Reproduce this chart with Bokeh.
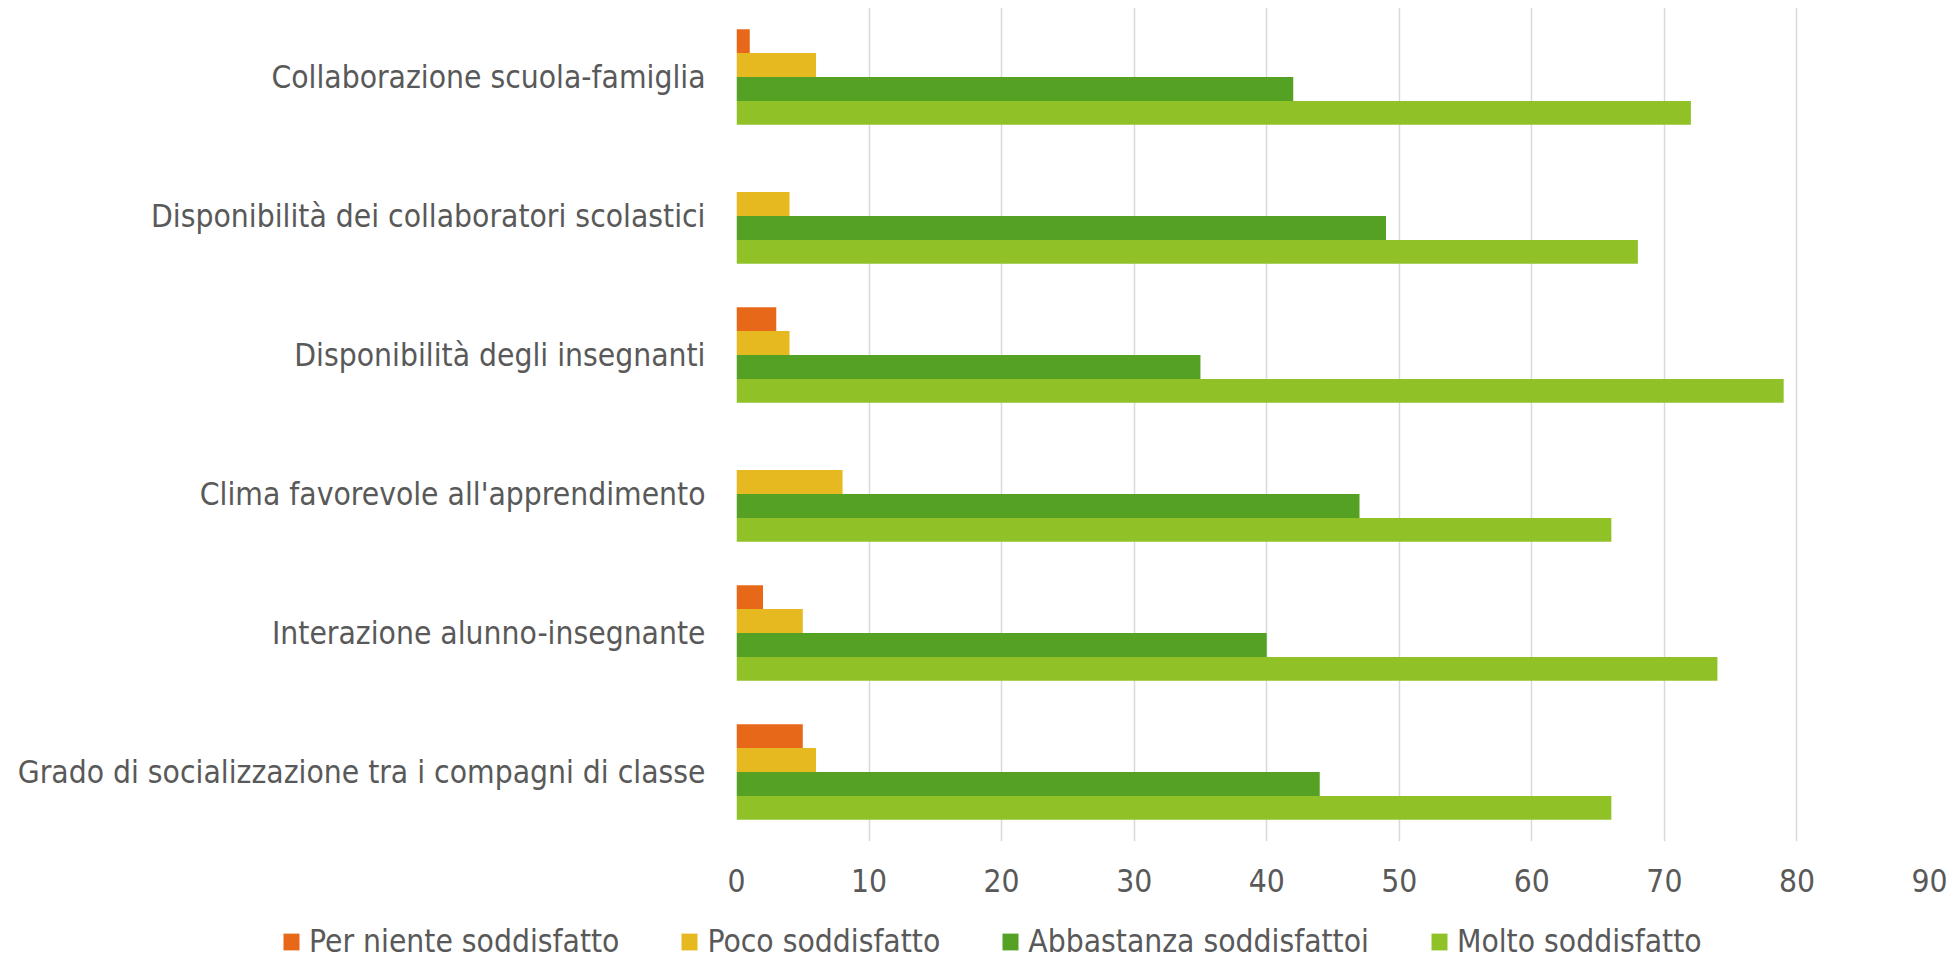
from bokeh.plotting import figure
from bokeh.layouts import column
from bokeh.models import FactorRange, Legend, LegendItem, Range1d, FixedTicker, ColumnDataSource
from bokeh.transform import dodge
from bokeh.embed import file_html
from bokeh.resources import INLINE

categories = [
    "Collaborazione scuola-famiglia",
    "Disponibilità dei collaboratori scolastici",
    "Disponibilità degli insegnanti",
    "Clima favorevole all'apprendimento",
    "Interazione alunno-insegnante",
    "Grado di socializzazione tra i compagni di classe",
]
per_niente = [1, 0, 3, 0, 2, 5]
poco = [6, 4, 4, 8, 5, 6]
abbastanza = [42, 49, 35, 47, 40, 44]
molto = [72, 68, 79, 66, 74, 66]
series_names = ["Per niente soddisfatto", "Poco soddisfatto", "Abbastanza soddisfattoi", "Molto soddisfatto"]
colors = ["#E8681A", "#E6B920", "#55A123", "#90C228"]
x_ticks = [0, 10, 20, 30, 40, 50, 60, 70, 80, 90]

FONT = "DejaVu Sans Condensed, Roboto, sans-serif"
TXT = "#595959"
FS = "31.5px"

source = ColumnDataSource(dict(cat=categories, a=per_niente, b=poco, c=abbastanza, d=molto))

p = figure(
    width=1954, height=904,
    y_range=FactorRange(*list(reversed(categories)), range_padding=0),
    x_range=Range1d(0, 90),
    output_backend="svg", toolbar_location=None,
    min_border_left=736, min_border_right=25, min_border_top=7, min_border_bottom=63,
)
p.outline_line_color = None
p.background_fill_color = "white"

h = 0.172
offsets = [0.258, 0.086, -0.086, -0.258]
for key, off, col in zip(["a", "b", "c", "d"], offsets, colors):
    p.hbar(y=dodge("cat", off, range=p.y_range), right=key, left=0, height=h,
           source=source, color=col, line_color=None)

p.xaxis.ticker = FixedTicker(ticks=x_ticks)
p.xgrid.ticker = FixedTicker(ticks=x_ticks)
p.xgrid.grid_line_color = "#D9D9D9"
p.xgrid.grid_line_width = 1.5
p.ygrid.grid_line_color = None

for ax in (p.xaxis, p.yaxis):
    ax.axis_line_color = None
    ax.major_tick_line_color = None
    ax.minor_tick_line_color = None
    ax.major_label_text_font = FONT
    ax.major_label_text_font_size = FS
    ax.major_label_text_color = TXT
p.xaxis.major_label_standoff = 21
p.yaxis.major_label_standoff = 25

# legend strip below the chart
lg = figure(width=1954, height=55, x_range=Range1d(0, 1), y_range=Range1d(0, 1),
            output_backend="svg", toolbar_location=None,
            min_border_left=0, min_border_right=0, min_border_top=0, min_border_bottom=0,
            x_axis_location=None, y_axis_location=None)
lg.outline_line_color = None
lg.xgrid.grid_line_color = None
lg.ygrid.grid_line_color = None
items = []
for key, col, name in zip(["a", "b", "c", "d"], colors, series_names):
    r = lg.hbar(y=dodge("a", -1000), right=key, left=0, height=0.5, source=source,
                color=col, line_color=None)
    items.append(LegendItem(label=name, renderers=[r]))
legend = Legend(items=items, orientation="horizontal", location=(281, 0),
                label_text_font=FONT, label_text_font_size=FS, label_text_color=TXT,
                glyph_width=20, glyph_height=21, label_standoff=8, spacing=60,
                padding=0, margin=0, border_line_color=None, background_fill_alpha=0)
lg.add_layout(legend, "center")

layout = column(p, column(lg, spacing=0), spacing=0)
open("out.html", "w").write(file_html(layout, INLINE))
